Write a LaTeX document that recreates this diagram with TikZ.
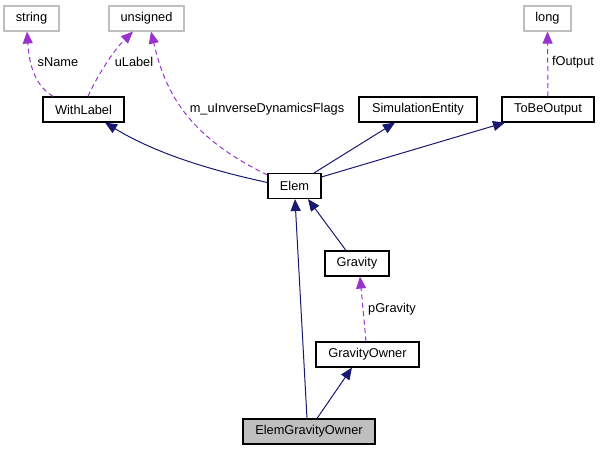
\documentclass[tikz,border=0pt]{standalone}
\usepackage{fontspec}
\setmainfont{Liberation Sans}
\usetikzlibrary{arrows.meta,calc}
\definecolor{navy}{HTML}{191970}
\definecolor{orchid}{HTML}{9A32CD}
\definecolor{boxgray}{HTML}{BFBFBF}
\begin{document}
\begin{tikzpicture}[x=0.75pt,y=-0.75pt,
  every node/.style={font=\fontsize{9.6pt}{11pt}\selectfont, inner sep=0pt},
  cls/.style={draw=black, line width=0.8pt, minimum height=18.75pt, fill=white},
  ext/.style={draw=boxgray, line width=0.8pt, minimum height=18.75pt, fill=white},
  cur/.style={draw=black, line width=0.8pt, minimum height=18.75pt, fill=boxgray},
  inh/.style={draw=navy, line width=0.75pt, -{Triangle[length=9pt,width=7.5pt]}},
  use/.style={draw=orchid, line width=0.75pt, dash pattern=on 3.75pt off 2.6pt, -{Triangle[length=9pt,width=7.5pt]}},
  lbl/.style={fill=none}]
\useasboundingbox (0,0) rectangle (601,451);
\node[ext, minimum width=41.25pt] (string) at (31.5,18.5) {string};
\node[ext, minimum width=56.25pt] (unsigned) at (146.5,18.5) {unsigned};
\node[ext, minimum width=35.25pt] (long) at (547.5,18.5) {long};
\node[cls, minimum width=60.75pt] (WithLabel) at (83.5,109.5) {WithLabel};
\node[cls, minimum width=88.5pt] (SimEnt) at (418,109.5) {SimulationEntity};
\node[cls, minimum width=69pt] (ToBe) at (548,109.5) {ToBeOutput};
\node[cls, minimum width=39.75pt] (Elem) at (294.5,186) {Elem};
\node[cls, minimum width=48pt] (Gravity) at (357,263.5) {Gravity};
\node[cls, minimum width=77.25pt] (GOwner) at (367.5,354.5) {GravityOwner};
\node[cur, minimum width=99pt] (EGO) at (309,431.5) {ElemGravityOwner};

% usage (dashed) edges
\draw[use] ($(WithLabel.north)+(-30.5,0)$) .. controls (40,88) and (30,75) .. ($(string.south)+(-4.5,0)$);
\draw[use] ($(WithLabel.north)+(4.5,0)$) .. controls (95,80) and (112,52) .. ($(unsigned.south)+(-13.5,0)$);
\draw[use] ($(Elem.north west)+(0,2)$) .. controls (185,135) and (165,90) .. ($(unsigned.south)+(4.5,0)$);
\draw[use] (ToBe.north) -- (long.south);
\draw[use] ($(GOwner.north)+(-1.5,0)$) -- ($(Gravity.south)+(3,0)$);

% inheritance edges
\draw[inh] ($(Elem.west)+(0,-3.5)$) .. controls (200,168) and (150,150) .. ($(WithLabel.south)+(21.5,0)$);
\draw[inh] ($(Elem.north)+(19.5,0)$) -- ($(SimEnt.south)+(-23,0)$);
\draw[inh] ($(Elem.north east)+(0,4)$) -- ($(ToBe.south)+(-43,0)$);
\draw[inh] ($(Gravity.north)+(-11,0)$) -- ($(Elem.south)+(13.5,0)$);
\draw[inh] ($(EGO.north)+(-2,0)$) -- ($(Elem.south)+(0.5,0)$);
\draw[inh] ($(EGO.north)+(8,0)$) -- ($(GOwner.south)+(-15.5,0)$);

% labels
\node[lbl] (l1) at (58,62) {sName};
\node[lbl] (l2) at (134,62) {uLabel};
\node[lbl] (l3) at (267,109) {m\_uInverseDynamicsFlags};
\node[lbl] (l4) at (573,62) {fOutput};
\node[lbl] (l5) at (392,309) {pGravity};
\end{tikzpicture}
\end{document}
